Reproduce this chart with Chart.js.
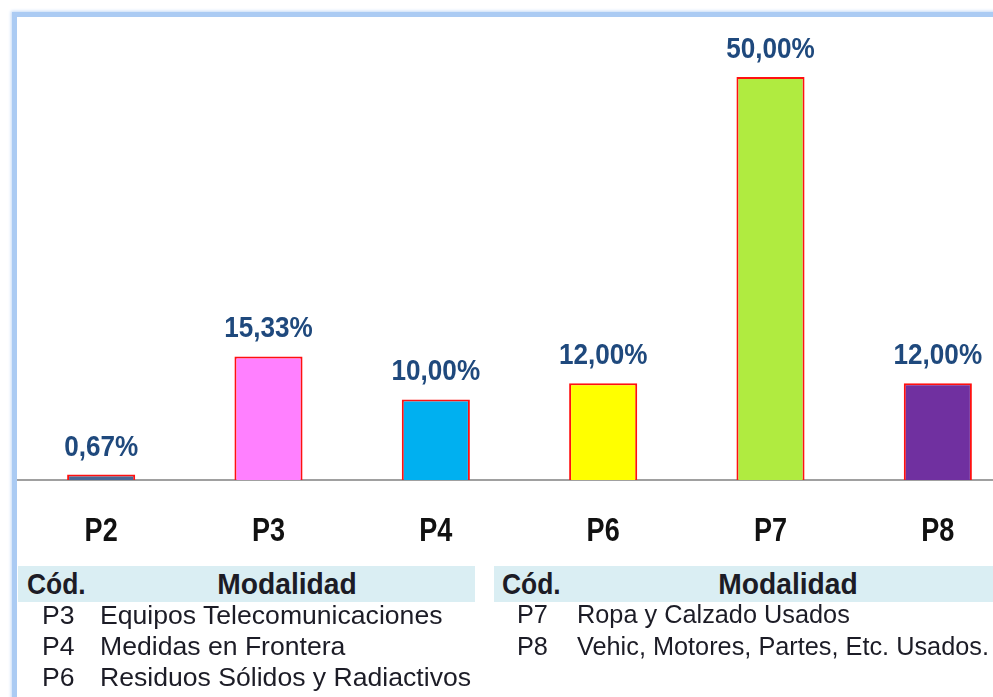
<!DOCTYPE html>
<html>
<head>
<meta charset="utf-8">
<script src="https://cdn.jsdelivr.net/npm/chart.js@4/dist/chart.umd.min.js"></script>
<style>
  html, body { margin: 0; padding: 0; background: #fff; overflow: hidden; width: 993px; height: 697px; }
  #frame { position: absolute; left: 12px; top: 12px; width: 1100px; height: 800px;
           border-left: 5px solid #abcbf3; border-top: 5px solid #abcbf3;
           box-shadow: -1px -1px 3px #c4dbf7; }
  #wrap { position: absolute; left: 0; top: 0; width: 1040px; height: 697px; }
  .band { position: absolute; top: 566px; height: 36px; background: #daeef3; }
  .txt { position: absolute; font-family: "Liberation Sans", Arial, sans-serif; color: #1c1c26; white-space: nowrap; line-height: 30px; }
  .hd { font-weight: bold; font-size: 30px; line-height: 36px; top: 566px; }
  .row { font-size: 26px; }
</style>
</head>
<body>
<div id="frame"></div>
<div id="wrap"><canvas id="c"></canvas></div>
<div id="legend"></div>
<script>
// Product codes and their share (%)
const categories = ['P2', 'P3', 'P4', 'P6', 'P7', 'P8'];
const shares = [0.67, 15.33, 10.00, 12.00, 50.00, 12.00];
const barColors = ['#4a6896', '#ff80ff', '#00b0f0', '#ffff00', '#b0eb40', '#7030a0'];

// Code tables shown under the chart
const tableLeftCodes = ['P3', 'P4', 'P6'];
const tableLeftNames = ['Equipos Telecomunicaciones', 'Medidas en Frontera', 'Residuos Sólidos y Radiactivos'];
const tableRightCodes = ['P7', 'P8'];
const tableRightNames = ['Ropa y Calzado Usados', 'Vehic, Motores, Partes, Etc. Usados.'];

const fmt = v => v.toFixed(2).replace('.', ',') + '%';
const FONT = '"Liberation Sans", Arial, sans-serif';
const AXIS_SQUEEZE = 0.82;  // horizontal squeeze for category labels
const LABEL_SQUEEZE = 0.87; // horizontal squeeze for value labels

// Draw canvas strings horizontally condensed around their anchor point
const narrowText = {
  id: 'narrowText',
  beforeDraw(chart) {
    const ctx = chart.ctx;
    ctx._squeeze = AXIS_SQUEEZE;
    if (ctx._narrowed) return;
    const orig = ctx.fillText.bind(ctx);
    ctx.fillText = function (t, x, y, mw) {
      ctx.save();
      ctx.translate(x, y);
      ctx.scale(ctx._squeeze, 1);
      orig(t, 0, 0, mw);
      ctx.restore();
    };
    ctx._narrowed = true;
  }
};

const valueLabels = {
  id: 'valueLabels',
  afterDatasetsDraw(chart) {
    const ctx = chart.ctx;
    const meta = chart.getDatasetMeta(0);
    ctx.save();
    ctx._squeeze = LABEL_SQUEEZE;
    ctx.font = 'bold 30px ' + FONT;
    ctx.fillStyle = '#1f497d';
    ctx.textAlign = 'center';
    ctx.textBaseline = 'alphabetic';
    meta.data.forEach((bar, i) => {
      ctx.fillText(fmt(shares[i]), bar.x, bar.y - 19);
    });
    ctx._squeeze = AXIS_SQUEEZE;
    ctx.restore();
  }
};

new Chart(document.getElementById('c'), {
  type: 'bar',
  data: {
    labels: categories,
    datasets: [{
      data: shares,
      backgroundColor: barColors,
      borderColor: '#ff1010',
      borderWidth: 2,
      borderSkipped: 'bottom',
      barPercentage: 0.407,
      categoryPercentage: 1
    }]
  },
  options: {
    responsive: true,
    maintainAspectRatio: false,
    animation: false,
    devicePixelRatio: 1,
    layout: { padding: { left: 17.5, right: 18.5, top: 36.7, bottom: 0 } },
    plugins: { legend: { display: false }, tooltip: { enabled: false } },
    scales: {
      y: { display: false, min: 0, max: 55 },
      x: {
        grid: { display: false, drawTicks: false },
        border: { display: true, color: '#a0a0a0', width: 2 },
        ticks: {
          color: '#111',
          padding: 32,
          font: { family: FONT, weight: 'bold', size: 33 }
        },
        afterFit(scale) { scale.height = 217; }
      }
    }
  },
  plugins: [narrowText, valueLabels]
});

// Build the two code tables
const legend = document.getElementById('legend');
function addText(cls, text, left, top, extra) {
  const d = document.createElement('div');
  d.className = 'txt ' + cls;
  d.textContent = text;
  d.style.left = left + 'px';
  if (top !== null) d.style.top = top + 'px';
  if (extra) Object.assign(d.style, extra);
  legend.appendChild(d);
  return d;
}
function addTable(bandLeft, bandWidth, codLeft, modCenter, codeLeft, nameLeft, codes, names, rowTops, rowSize) {
  const b = document.createElement('div');
  b.className = 'band';
  b.style.left = bandLeft + 'px';
  b.style.width = bandWidth + 'px';
  legend.appendChild(b);
  addText('hd', 'Cód.', codLeft, null, { transform: 'scaleX(0.88)', transformOrigin: '0 50%' });
  addText('hd', 'Modalidad', modCenter, null, { transform: 'translateX(-50%) scaleX(0.94)' });
  codes.forEach((c, i) => {
    addText('row', c, codeLeft, rowTops[i], { fontSize: rowSize + 'px' });
    addText('row', names[i], nameLeft, rowTops[i], { fontSize: rowSize + 'px' });
  });
}
addTable(18, 457, 27, 287, 42, 100, tableLeftCodes, tableLeftNames, [600, 631, 662], 26.6);
addTable(494, 520, 502, 788, 517, 577, tableRightCodes, tableRightNames, [599, 631], 25.3);
</script>
</body>
</html>
